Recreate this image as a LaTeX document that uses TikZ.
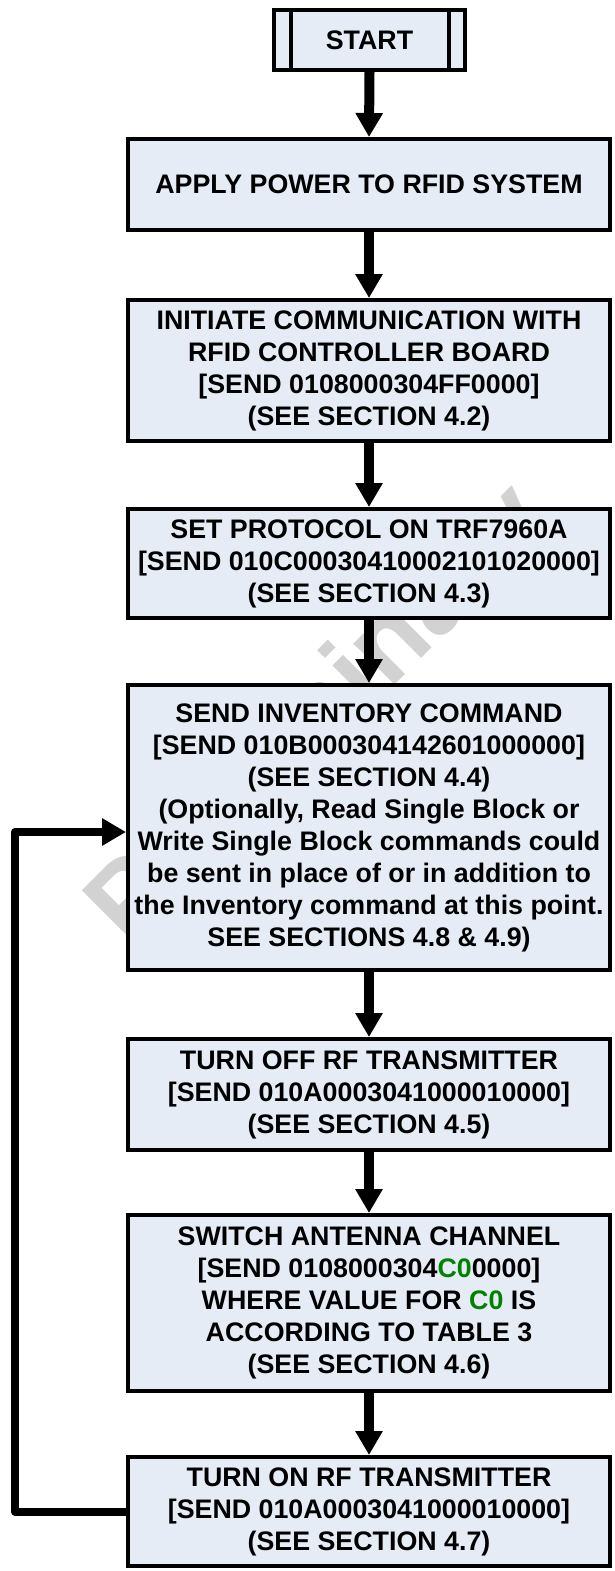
\documentclass[tikz,border=0pt]{standalone}
\usepackage{fontspec}
\setmainfont{Liberation Sans}
\usetikzlibrary{arrows.meta}
\definecolor{boxfill}{RGB}{230,236,246}
\definecolor{codegreen}{RGB}{0,128,0}
\definecolor{wmark}{RGB}{210,210,210}
\newcommand{\grn}[1]{\textcolor{codegreen}{#1}}
\begin{document}
\begin{tikzpicture}[x=1pt,y=-1pt,
  procbox/.style={draw, line width=4pt, fill=boxfill, minimum width=482pt, inner sep=0pt, align=center,
    font=\bfseries\fontsize{26.8}{32}\selectfont},
  flow/.style={line width=10pt, -{Triangle[width=26pt,length=24pt]}},
  wmstyle/.style={text=wmark, font=\bfseries\fontsize{110}{110}\selectfont, rotate=45, inner sep=0pt}
]
\useasboundingbox (0,0) rectangle (615,1571);
% watermark
\node[wmstyle] (wm) at (322,718) {Preliminary};
% nodes
\node[procbox, minimum width=191pt, minimum height=60pt] (start) at (369.5,40) {START};
\draw[line width=4pt] ([xshift=19pt]start.north west) -- ([xshift=19pt]start.south west);
\draw[line width=4pt] ([xshift=-18pt]start.north east) -- ([xshift=-18pt]start.south east);
\node[procbox, minimum height=91pt] (apply) at (369,184.5) {APPLY POWER TO RFID SYSTEM};
\node[procbox, minimum height=141pt] (init) at (369,370.5) {INITIATE COMMUNICATION WITH\\RFID CONTROLLER BOARD\\{}[SEND 0108000304FF0000]\\(SEE SECTION 4.2)};
\node[procbox, minimum height=109pt] (proto) at (369,563.5) {SET PROTOCOL ON TRF7960A\\{}[SEND 010C00030410002101020000]\\(SEE SECTION 4.3)};
\node[procbox, minimum height=285pt] (inv) at (369,827.5) {SEND INVENTORY COMMAND\\{}[SEND 010B000304142601000000]\\(SEE SECTION 4.4)\\(Optionally, Read Single Block or\\Write Single Block commands could\\be sent in place of or in addition to\\the Inventory command at this point.\\SEE SECTIONS 4.8 \& 4.9)};
\node[procbox, minimum height=111pt] (off) at (369,1094.5) {TURN OFF RF TRANSMITTER\\{}[SEND 010A0003041000010000]\\(SEE SECTION 4.5)};
\node[procbox, minimum height=176pt] (switch) at (369,1303) {SWITCH ANTENNA CHANNEL\\{}[SEND 0108000304\grn{C0}0000]\\WHERE VALUE FOR \grn{C0} IS\\ACCORDING TO TABLE 3\\(SEE SECTION 4.6)};
\node[procbox, minimum height=109pt] (on) at (369,1511.5) {TURN ON RF TRANSMITTER\\{}[SEND 010A0003041000010000]\\(SEE SECTION 4.7)};
% connectors
\draw[flow] (start.south) -- (apply.north);
\draw[flow] (apply.south) -- (init.north);
\draw[flow] (init.south) -- (proto.north);
\draw[flow] (proto.south) -- (inv.north);
\draw[flow] (inv.south) -- (off.north);
\draw[flow] (off.south) -- (switch.north);
\draw[flow] (switch.south) -- (on.north);
\coordinate (lx) at (15,0);
\coordinate (invin) at ([yshift=-4.5pt]inv.west);
\draw[line width=8pt, line join=round, -{Triangle[width=26pt,length=24pt]}] (on.west) -- (on.west -| lx) -- (invin -| lx) -- (invin);
\end{tikzpicture}
\end{document}
